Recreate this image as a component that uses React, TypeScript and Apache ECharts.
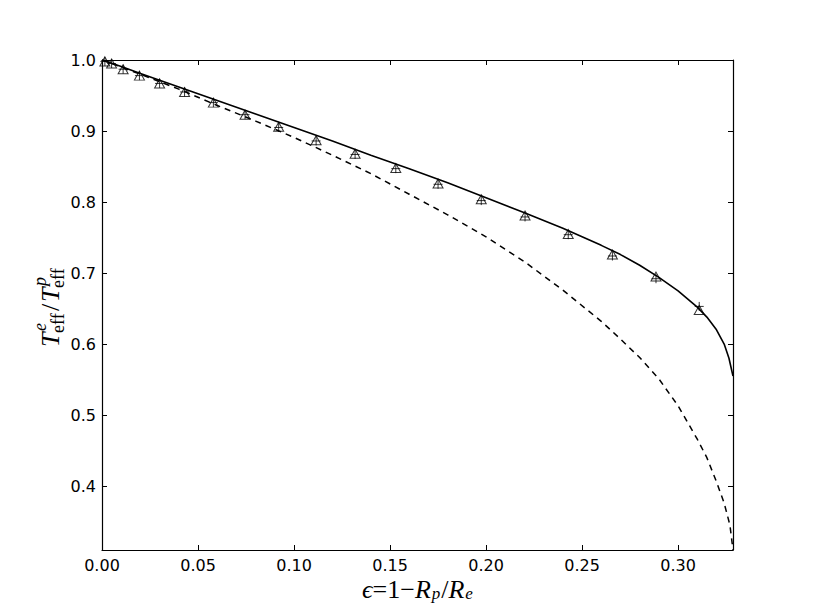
import React, { useEffect, useRef } from "react";
import * as echarts from "echarts";

// Solid curve
const solidX = [0, 0.01, 0.02, 0.04, 0.06, 0.08, 0.10, 0.12, 0.14, 0.16, 0.18, 0.20, 0.22, 0.24, 0.26, 0.27, 0.28, 0.29, 0.30, 0.31, 0.315, 0.32, 0.324, 0.3265, 0.328, 0.3286];
const solidY = [1.0, 0.991, 0.981, 0.962, 0.943, 0.924, 0.905, 0.886, 0.866, 0.847, 0.827, 0.806, 0.785, 0.763, 0.739, 0.726, 0.711, 0.694, 0.675, 0.652, 0.638, 0.620, 0.600, 0.580, 0.562, 0.555];

// Dashed curve
const dashedX = [0, 0.02, 0.04, 0.06, 0.08, 0.10, 0.12, 0.14, 0.16, 0.18, 0.20, 0.22, 0.24, 0.26, 0.27, 0.28, 0.29, 0.30, 0.31, 0.315, 0.32, 0.324, 0.327, 0.3286];
const dashedY = [1.0, 0.980, 0.959, 0.936, 0.914, 0.891, 0.866, 0.840, 0.811, 0.782, 0.751, 0.716, 0.676, 0.632, 0.607, 0.581, 0.551, 0.513, 0.466, 0.440, 0.406, 0.376, 0.345, 0.31];

// Markers
const markerX = [0.0015, 0.005, 0.011, 0.0195, 0.030, 0.043, 0.058, 0.0745, 0.092, 0.1115, 0.1318, 0.153, 0.175, 0.1975, 0.2203, 0.2428, 0.2658, 0.2885, 0.311];
const triangleY = [0.998, 0.995, 0.987, 0.978, 0.967, 0.955, 0.940, 0.923, 0.906, 0.887, 0.868, 0.848, 0.826, 0.804, 0.781, 0.755, 0.726, 0.695, 0.648];
const plusY = [0.998, 0.995, 0.987, 0.978, 0.967, 0.955, 0.940, 0.923, 0.905, 0.886, 0.867, 0.847, 0.825, 0.802, 0.779, 0.754, 0.724, 0.692, 0.653];

// Ticks
const xTicks = [0, 0.05, 0.1, 0.15, 0.2, 0.25, 0.3];
const yTicks = [0.4, 0.5, 0.6, 0.7, 0.8, 0.9, 1.0];

const X_MIN = 0;
const X_MAX = 0.3286;
const Y_MIN = 0.31;
const Y_MAX = 1.0;

const zip = (xs: number[], ys: number[]) => xs.map((x, i) => [x, ys[i]]);

export default function App() {
  const ref = useRef<HTMLDivElement>(null);
  useEffect(() => {
    const chart = echarts.init(ref.current!, null, { renderer: "svg" });
    const axisLine = { show: true, onZero: false, lineStyle: { color: "#000", width: 1.2 } };
    const tickLine = { color: "#000", width: 1 };
    const labelStyle = { color: "#000", fontSize: 16, fontFamily: "DejaVu Sans" };
    const serif = "Liberation Serif";
    const option: any = {
      animation: false,
      backgroundColor: "#fff",
      grid: { left: 102, right: 80, top: 60, bottom: 63, containLabel: false },
      xAxis: [
        {
          type: "value", min: X_MIN, max: X_MAX, position: "bottom",
          axisLine, splitLine: { show: false },
          axisTick: { show: true, inside: true, length: 5, customValues: xTicks, lineStyle: tickLine },
          axisLabel: { ...labelStyle, margin: 7, customValues: xTicks, formatter: (v: number) => v.toFixed(2) },
        },
        {
          type: "value", min: X_MIN, max: X_MAX, position: "top",
          axisLine, splitLine: { show: false },
          axisTick: { show: true, inside: true, length: 5, customValues: xTicks, lineStyle: tickLine },
          axisLabel: { show: false },
        },
      ],
      yAxis: [
        {
          type: "value", min: Y_MIN, max: Y_MAX, position: "left",
          axisLine, splitLine: { show: false },
          axisTick: { show: true, inside: true, length: 5, customValues: yTicks, lineStyle: tickLine },
          axisLabel: { ...labelStyle, margin: 6, customValues: yTicks, formatter: (v: number) => v.toFixed(1) },
        },
        {
          type: "value", min: Y_MIN, max: Y_MAX, position: "right",
          axisLine, splitLine: { show: false },
          axisTick: { show: true, inside: true, length: 5, customValues: yTicks, lineStyle: tickLine },
          axisLabel: { show: false },
        },
      ],
      series: [
        {
          type: "line", data: zip(solidX, solidY), showSymbol: false, symbol: "none",
          lineStyle: { color: "#000", width: 1.6 }, z: 3,
        },
        {
          type: "line", data: zip(dashedX, dashedY), showSymbol: false, symbol: "none",
          lineStyle: { color: "#000", width: 1.5, type: [6, 5] }, z: 3,
        },
        {
          type: "scatter", data: zip(markerX, triangleY), symbol: "triangle", symbolSize: [10, 9],
          itemStyle: { color: "rgba(0,0,0,0)", borderColor: "#000", borderWidth: 1 }, z: 4,
        },
        {
          type: "scatter", data: zip(markerX, plusY), symbol: "path://M5 0L5 10M0 5L10 5", symbolSize: 9,
          itemStyle: { color: "rgba(0,0,0,0)", borderColor: "#000", borderWidth: 1 }, z: 4,
        },
      ],
      graphic: [
        {
          type: "text", x: 418, y: 589,
          style: {
            text: "{m|ϵ}{n|=1−}{m|R}{s|p}{n|/}{m|R}{s|e}",
            align: "center", verticalAlign: "middle",
            fill: "#000",
            rich: {
              m: { fontFamily: serif, fontStyle: "italic", fontSize: 26, lineHeight: 26, verticalAlign: "middle", fill: "#000" },
              n: { fontFamily: serif, fontSize: 26, lineHeight: 26, verticalAlign: "middle", fill: "#000" },
              s: { fontFamily: serif, fontStyle: "italic", fontSize: 17, lineHeight: 14, verticalAlign: "bottom", padding: [0, 1, 0, 1], fill: "#000" },
            },
          },
        },
        {
          type: "group", x: 50, y: 306, rotation: Math.PI / 2,
          children: [
            { type: "text", x: -41, y: 0, style: { text: "T", fontFamily: serif, fontStyle: "italic", fontSize: 26, fill: "#000", align: "left", verticalAlign: "middle" } },
            { type: "text", x: -25, y: -10, style: { text: "e", fontFamily: serif, fontStyle: "italic", fontSize: 18, fill: "#000", align: "left", verticalAlign: "middle" } },
            { type: "text", x: -27, y: 8, style: { text: "eff", fontFamily: serif, fontSize: 18, fill: "#000", align: "left", verticalAlign: "middle" } },
            { type: "text", x: -5, y: 0, style: { text: "/", fontFamily: serif, fontSize: 26, fill: "#000", align: "left", verticalAlign: "middle" } },
            { type: "text", x: 4, y: 0, style: { text: "T", fontFamily: serif, fontStyle: "italic", fontSize: 26, fill: "#000", align: "left", verticalAlign: "middle" } },
            { type: "text", x: 20, y: -10, style: { text: "p", fontFamily: serif, fontStyle: "italic", fontSize: 18, fill: "#000", align: "left", verticalAlign: "middle" } },
            { type: "text", x: 18, y: 8, style: { text: "eff", fontFamily: serif, fontSize: 18, fill: "#000", align: "left", verticalAlign: "middle" } },
          ],
        },
      ],
    };
    chart.setOption(option);
    return () => chart.dispose();
  }, []);
  return <div ref={ref} style={{ position: "fixed", left: 0, top: 0, width: 813, height: 613 }} />;
}
